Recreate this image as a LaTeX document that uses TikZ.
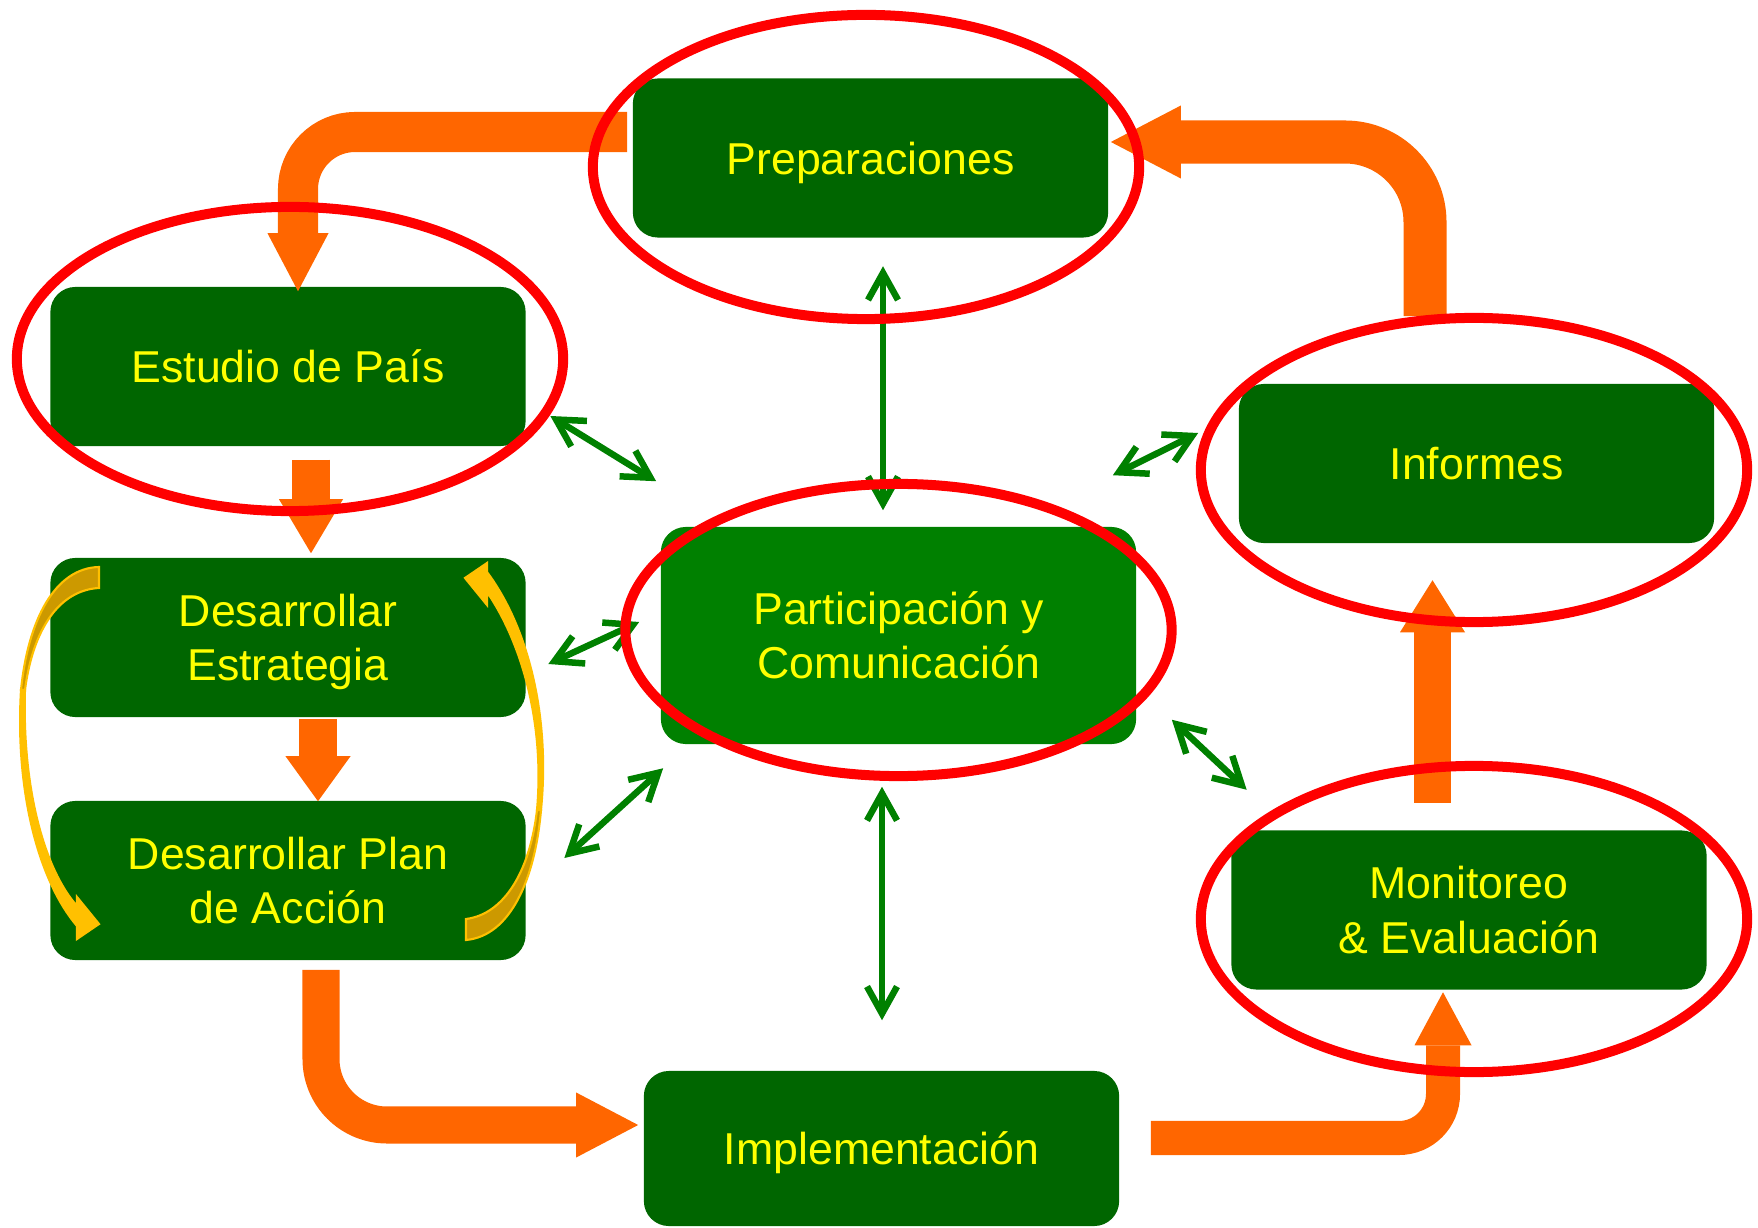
\documentclass[tikz,border=0pt]{standalone}
\usepackage{fontspec}
\setmainfont{Liberation Sans}
\usetikzlibrary{arrows.meta,calc}
\definecolor{boxgreen}{RGB}{0,102,0}
\definecolor{midgreen}{RGB}{0,128,0}
\definecolor{flowor}{RGB}{255,102,0}
\definecolor{ringred}{RGB}{255,0,0}
\definecolor{txtyellow}{RGB}{255,255,0}
\definecolor{bendgold}{RGB}{255,192,0}
\definecolor{bendshade}{RGB}{204,153,0}
\tikzset{
  stage/.style={fill=boxgreen,rounded corners=0.25cm,minimum width=4.75cm,
    minimum height=1.59cm,inner sep=0pt,align=center,text=txtyellow,
    text height=0.32cm,text depth=0pt,font=\fontsize{12.7}{15.4}\selectfont},
  twoline/.style={text height=0.861cm},
  flow/.style={draw=flowor,line width=0.38cm},
  link/.style={draw=midgreen,line width=0.065cm,line cap=round,line join=round,
    {Straight Barb[length=0.27cm,width=0.3cm]}-{Straight Barb[length=0.27cm,width=0.3cm]}},
  ring/.style={draw=ringred,line width=0.1cm},
  bendfront/.style={fill=bendgold,draw=bendgold,line width=0.6pt},
  bendback/.style={fill=bendshade,draw=bendgold,line width=0.6pt}
}
\begin{document}
\begin{tikzpicture}[x=0.01cm,y=-0.01cm]
\useasboundingbox (0,0) rectangle (1758,1228);
% stages
\node[stage] (prep) at (870.5,158) {Preparaciones};
\node[stage] (estudio) at (288,366.5) {Estudio de País};
\node[stage,twoline] (estrat) at (288,637.5) {Desarrollar\\Estrategia};
\node[stage,twoline] (plan) at (288,880.5) {Desarrollar Plan\\de Acción};
\node[stage,twoline,fill=midgreen,minimum height=2.17cm] (part) at (898.5,635.5) {Participación y\\Comunicación};
\node[stage] (informes) at (1476.5,463.5) {Informes};
\node[stage,twoline] (monitoreo) at (1469,910) {Monitoreo\\\& Evaluación};
\node[stage,minimum height=1.55cm] (impl) at (881.5,1148.5) {Implementación};
% cycle arrows
\draw[flow,line width=0.4cm,rounded corners=0.57cm,-{Triangle[length=0.58cm,width=0.61cm,line width=0pt]}]
  ($(prep.west)+(-5,-26)$) -| ($(estudio.north)+(10,5)$);
\draw[flow,-{Triangle[length=0.54cm,width=0.64cm,line width=0pt]}]
  ($(estudio.south)+(23,13)$) -- ($(estrat.north)+(23,-4)$);
\draw[flow,-{Triangle[length=0.45cm,width=0.65cm,line width=0pt]}]
  ($(estrat.south)+(30,1)$) -- ($(plan.north)+(30,1)$);
\draw[flow,line width=0.37cm,rounded corners=0.66cm,-{Triangle[length=0.62cm,width=0.65cm,line width=0pt]}]
  ($(plan.south)+(33,9)$) |- ($(impl.west)+(-5,-23.5)$);
\draw[flow,line width=0.34cm,rounded corners=0.44cm,-{Triangle[length=0.53cm,width=0.57cm,line width=0pt]}]
  ($(impl.east)+(31,-10.5)$) -| ($(monitoreo.south)+(-26,2)$);
\draw[flow,line width=0.37cm,-{Triangle[length=0.52cm,width=0.65cm,line width=0pt]}]
  ($(monitoreo.north)+(-36.5,-27)$) -- ($(informes.south)+(-44,36.5)$);
\draw[flow,line width=0.43cm,rounded corners=0.8cm,-{Triangle[length=0.7cm,width=0.73cm,line width=0pt]}]
  ($(informes.north)+(-51.5,-67)$) |- ($(prep.east)+(2,-16)$);
% links to participacion
\draw[link] ($(prep.south)+(12.5,28)$) -- ($(part.north)+(-15.5,-16)$);
\draw[link] ($(part.south)+(-16.5,42)$) -- ($(impl.north)+(0.5,-50)$);
\draw[link] ($(estudio.east)+(24,49.5)$) -- ($(part.north west)+(-4,-45)$);
\draw[link] ($(estrat.east)+(22,26.5)$) -- ($(part.west)+(-21,-13.5)$);
\draw[link] ($(plan.east)+(38,-22.5)$) -- ($(part.south west)+(3,23.5)$);
\draw[link] ($(part.north east)+(-24,-51)$) -- ($(informes.west)+(-40,-30.5)$);
\draw[link] ($(part.south east)+(35,-25)$) -- ($(monitoreo.north west)+(16,-40)$);
% curved loop arrows
\fill[bendback] (99,567) .. controls (55,568) and (28,620) .. (21,690) -- (25,690)
  .. controls (33,628) and (60,590) .. (99,588) -- cycle;
\fill[bendfront] (21,690) .. controls (15,790) and (38,880) .. (77,926) -- (77,939) -- (99,924)
  -- (77,897) -- (77,906) .. controls (45,870) and (22,790) .. (25,690) -- cycle;
\fill[bendback] (466,940) .. controls (510,936) and (535,880) .. (541,810) -- (537,810)
  .. controls (530,870) and (505,914) .. (466,919) -- cycle;
\fill[bendfront] (541,810) .. controls (550,720) and (530,630) .. (487,572) -- (487,563) -- (465,578)
  -- (487,605) -- (487,592) .. controls (520,640) and (545,720) .. (537,810) -- cycle;
% red rings
\foreach \n/\dx/\dy/\ry in {prep/-4.5/9/1.52,estudio/2/-7.5/1.52,part/0/-5.5/1.46,informes/-2.5/6.5/1.52,monitoreo/5/9/1.53}
\draw[ring] ($(\n.center)+(\dx,\dy)$) ellipse [x radius=2.73cm,y radius=\ry cm];
\end{tikzpicture}
\end{document}
